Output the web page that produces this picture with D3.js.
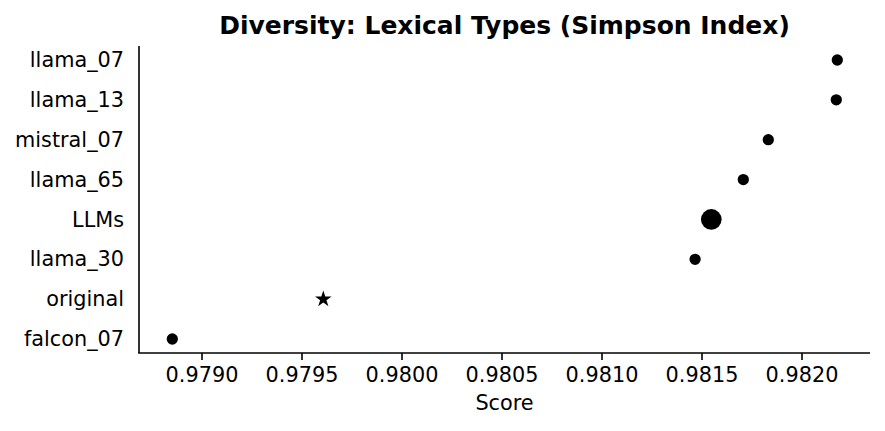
<!DOCTYPE html>
<html><head><meta charset="utf-8">
<script src="https://cdn.jsdelivr.net/npm/d3@7"></script>
<style>body{margin:0;background:#fff}svg{display:block}text{font-family:"DejaVu Sans",sans-serif}</style>
</head><body><svg id="c" width="885" height="431"></svg>
<script>
const categories = ["llama_07","llama_13","mistral_07","llama_65","LLMs","llama_30","original","falcon_07"];
const scores = [0.982179,0.982174,0.981834,0.981709,0.981549,0.981468,0.979609,0.978854];
const markerKinds = ["dot","dot","dot","dot","big","dot","star","dot"];
const xTicks = [0.9790,0.9795,0.9800,0.9805,0.9810,0.9815,0.9820];

const svg = d3.select("#c");
const L = 139, R = 870, T = 46, B = 353;
const x = d3.scaleLinear().domain([0.9786875, 0.9823425]).range([L, R]);
const y = d3.scalePoint().domain(categories).range([T + 14, B - 14]);

const FS = 20.8;
// axes
const xAxis = d3.axisBottom(x).tickValues(xTicks).tickFormat(d3.format(".4f")).tickSize(7).tickPadding(7);
const gx = svg.append("g").attr("transform", `translate(0,${B})`).call(xAxis)
  .attr("font-size", FS).attr("font-family", "DejaVu Sans");
gx.select(".domain").attr("stroke", "#000").attr("stroke-width", 1.6).attr("d", `M${L - 0.8},0H${R}`);
gx.selectAll(".tick line").attr("stroke", "#000").attr("stroke-width", 1.6);
gx.selectAll(".tick text").attr("fill", "#000");

const yAxis = d3.axisLeft(y).tickSize(0).tickPadding(15);
const gy = svg.append("g").attr("transform", `translate(${L},0)`).call(yAxis)
  .attr("font-size", FS).attr("font-family", "DejaVu Sans");
gy.select(".domain").attr("stroke", "#000").attr("stroke-width", 1.6).attr("d", `M0,${T}V${B}`);
gy.selectAll(".tick text").attr("fill", "#000");

// points
const data = categories.map((c, i) => ({c, v: scores[i], k: markerKinds[i]}));
const star = d3.symbol().type(d3.symbolStar).size(85);
svg.append("g").selectAll("path").data(data).join("path")
  .attr("transform", d => `translate(${x(d.v)},${y(d.c)})`)
  .attr("d", d => d.k === "star" ? star() : d3.symbol().type(d3.symbolCircle).size(d.k === "big" ? 335 : 100)())
  .attr("fill", "#000");

// title and label
svg.append("text").attr("x", (L + R) / 2).attr("y", 34).attr("text-anchor", "middle")
  .attr("font-size", 25).attr("font-weight", "bold").text("Diversity: Lexical Types (Simpson Index)");
svg.append("text").attr("x", (L + R) / 2).attr("y", 410).attr("text-anchor", "middle")
  .attr("font-size", FS).text("Score");
</script></body></html>
